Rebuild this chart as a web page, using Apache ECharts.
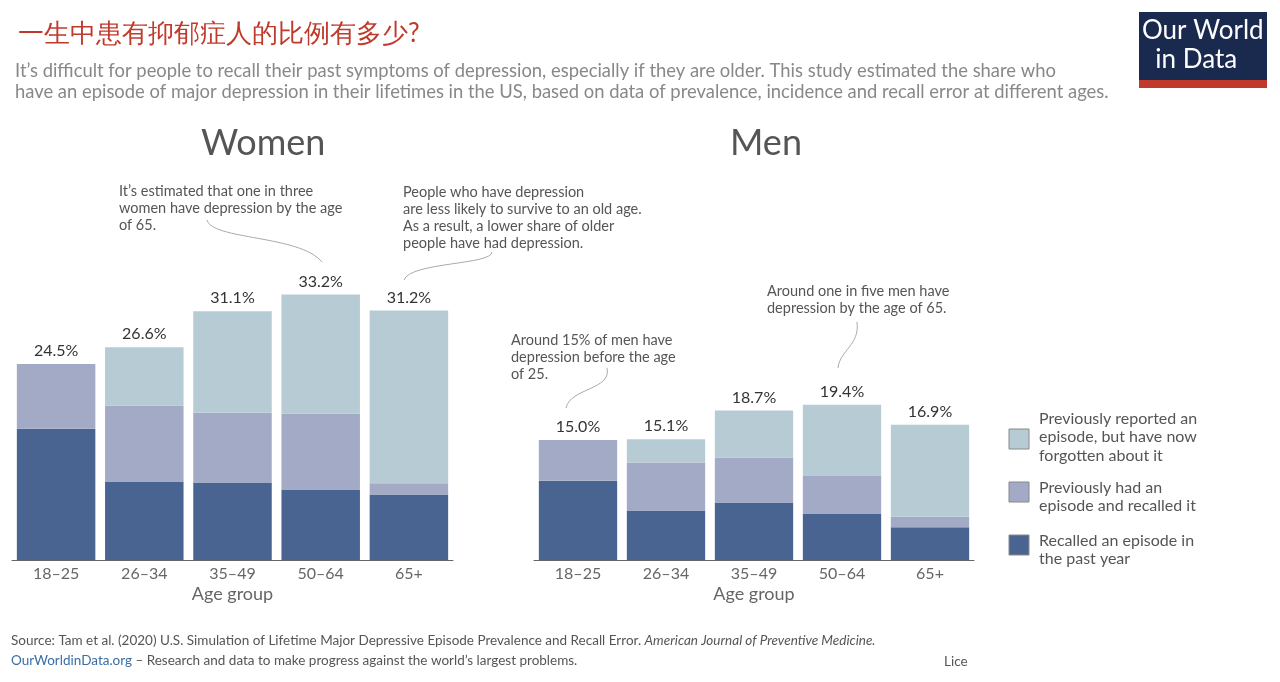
<!DOCTYPE html>
<html><head><meta charset="utf-8">
<script src="https://cdn.jsdelivr.net/npm/echarts@6/dist/echarts.min.js"></script>
<style>html,body{margin:0;background:#fff}#c{width:1280px;height:682px}</style>
</head><body><div id="c"></div>
<script>
var ageGroups = ['18–25','26–34','35–49','50–64','65+'];
// women: recalled past year / previously had & recalled / forgotten
var womenRecent = [16.4, 9.8, 9.7, 8.8, 8.2];
var womenRecalled = [8.1, 9.5, 8.7, 9.5, 1.4];
var womenForgot = [0, 7.3, 12.7, 14.9, 21.6];
var womenTotal = ['24.5%','26.6%','31.1%','33.2%','31.2%'];
var menRecent = [9.9, 6.2, 7.2, 5.8, 4.1];
var menRecalled = [5.1, 6.0, 5.6, 4.7, 1.3];
var menForgot = [0, 2.9, 5.9, 8.9, 11.5];
var menTotal = ['15.0%','15.1%','18.7%','19.4%','16.9%'];
var colors = ['#4a6491','#a3aac6','#b7cbd5'];
var names = ['Recalled an episode in\nthe past year','Previously had an\nepisode and recalled it','Previously reported an\nepisode, but have now\nforgotten about it'];

var chart = echarts.init(document.getElementById('c'));
var font = 'Lato, "Noto Sans", sans-serif';

function series(idx, a, b, c, tot) {
    var arr = [a, b, c];
    var out = [];
    for (var i = 0; i < 3; i++) {
        var s = {
            type: 'bar', stack: 's' + idx, xAxisIndex: idx, yAxisIndex: idx,
            name: names[i], barCategoryGap: '11%',
            itemStyle: {color: colors[i]}, data: arr[i]
        };
        if (i == 2) {
            s.label = {show: true, position: 'top', fontFamily: font, fontSize: 16, color: '#333',
                formatter: function (p) { return tot[p.dataIndex]; }};
        }
        out.push(s);
    }
    return out;
}
function xa(idx) {
    return {type: 'category', gridIndex: idx, data: ageGroups, name: 'Age group', nameLocation: 'middle', nameGap: 25,
        nameTextStyle: {fontFamily: font, fontSize: 18, color: '#666'},
        axisLine: {lineStyle: {color: '#666'}}, axisTick: {show: false},
        axisLabel: {fontFamily: font, fontSize: 16, color: '#666', margin: 6}};
}
function ya(idx) {
    return {type: 'value', gridIndex: idx, min: 0, max: 35, show: false, splitLine: {show: false}};
}
function txt(x, y, t, size, col) {
    return {type: 'text', left: x, top: y, style: {text: t, fontFamily: font, fontSize: size || 14.5, fill: col || '#555', lineHeight: (size || 14.5) * 1.17}};
}
function curve(pts) {
    return {type: 'bezierCurve', shape: {x1: pts[0], y1: pts[1], cpx1: pts[2], cpy1: pts[3], cpx2: pts[4], cpy2: pts[5], x2: pts[6], y2: pts[7]},
        style: {stroke: '#aaa', fill: null, lineWidth: 1}};
}
var legendY = [535, 482, 429];
var graphic = [
    txt(18, 18, '一生中患有抑郁症人的比例有多少?', 26, '#c0392b'),
    txt(15, 60, 'It’s difficult for people to recall their past symptoms of depression, especially if they are older. This study estimated the share who\nhave an episode of major depression in their lifetimes in the US, based on data of prevalence, incidence and recall error at different ages.', 18.4, '#888'),
    {type: 'rect', shape: {x: 1139, y: 12, width: 128, height: 76}, style: {fill: '#1a2a4f'}},
    {type: 'rect', shape: {x: 1139, y: 80, width: 128, height: 8}, style: {fill: '#c0392b'}},
    {type: 'text', left: 1142, top: 16, style: {text: 'Our World\n  in Data', fontFamily: font, fontSize: 26, fill: '#fff', lineHeight: 29}},
    txt(201, 122, 'Women', 36, '#555'),
    txt(730, 122, 'Men', 36, '#555'),
    txt(119, 183, 'It’s estimated that one in three\nwomen have depression by the age\nof 65.'),
    curve([207, 220, 212, 240, 300, 235, 322, 262]),
    txt(403, 184, 'People who have depression\nare less likely to survive to an old age.\nAs a result, a lower share of older\npeople have had depression.'),
    curve([492, 252, 492, 265, 410, 262, 404, 280]),
    txt(767, 283, 'Around one in five men have\ndepression by the age of 65.'),
    curve([857, 322, 860, 345, 840, 350, 838, 368]),
    txt(511, 332, 'Around 15% of men have\ndepression before the age\nof 25.'),
    curve([607, 368, 612, 390, 570, 388, 566, 408]),
    {type: 'text', left: 11, top: 634, style: {text: '{n|Source: Tam et al. (2020) U.S. Simulation of Lifetime Major Depressive Episode Prevalence and Recall Error. }{i|American Journal of Preventive Medicine.}',
        rich: {n: {fontFamily: font, fontSize: 13.5, fill: '#555'}, i: {fontFamily: font, fontSize: 13.5, fill: '#555', fontStyle: 'italic'}}}},
    {type: 'text', left: 11, top: 654, style: {text: '{a|OurWorldinData.org} {n|– Research and data to make progress against the world’s largest problems.}',
        rich: {a: {fontFamily: font, fontSize: 13.5, fill: '#3a6ea5'}, n: {fontFamily: font, fontSize: 13.5, fill: '#555'}}}},
    txt(944, 654, 'Lice', 13.5, '#555')
];
for (var i = 0; i < 3; i++) {
    graphic.push({type: 'rect', shape: {x: 1009, y: legendY[i], width: 20, height: 20}, style: {fill: colors[i], stroke: '#888', lineWidth: 1}});
    graphic.push(txt(1039, legendY[i] - 4 - (i == 2 ? 16 : 0), names[i], 16, '#555'));
}

chart.setOption({
    animation: false,
    grid: [{left: 12, width: 441, top: 280, height: 280}, {left: 534, width: 440, top: 280, height: 280}],
    xAxis: [xa(0), xa(1)],
    yAxis: [ya(0), ya(1)],
    series: series(0, womenRecent, womenRecalled, womenForgot, womenTotal)
        .concat(series(1, menRecent, menRecalled, menForgot, menTotal)),
    graphic: graphic
});
</script></body></html>
